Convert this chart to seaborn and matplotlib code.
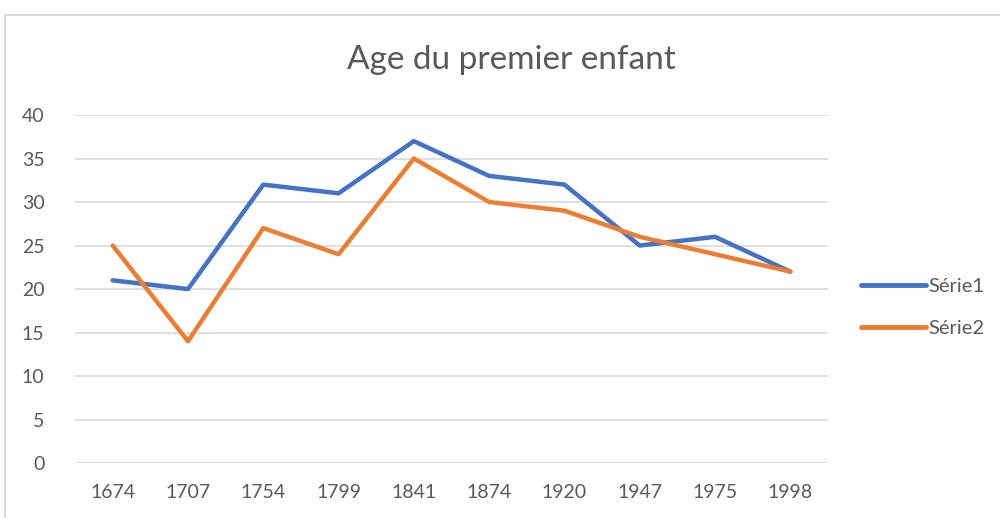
import pandas as pd
import seaborn as sns
import matplotlib.pyplot as plt
from matplotlib.patches import Rectangle

# données
annees = ['1674', '1707', '1754', '1799', '1841', '1874', '1920', '1947', '1975', '1998']
serie1 = [21, 20, 32, 31, 37, 33, 32, 25, 26, 22]
serie2 = [25, 14, 27, 24, 35, 30, 29, 26, 24, 22]

df = pd.DataFrame({
    'annee': annees * 2,
    'age': serie1 + serie2,
    'serie': ['Série1'] * len(annees) + ['Série2'] * len(annees),
})

sns.set_style('white')
plt.rcParams['font.family'] = ['Lato', 'DejaVu Sans']

fig = plt.figure(figsize=(10, 5.18), dpi=100)
ax = fig.add_axes([0.075, 0.106, 0.753, 0.672])

# cadre gris du graphique (coupé à droite et en bas)
fig.patches.append(Rectangle((0.005, -0.1), 1.2, 0.071 + 0.1 + 0.9, transform=fig.transFigure,
                             fill=False, edgecolor='#D9D9D9', linewidth=1.5))

sns.lineplot(data=df, x='annee', y='age', hue='serie', sort=False,
             palette=['#4472C4', '#ED7D31'], linewidth=3.2, ax=ax)

ax.set_xlim(-0.5, len(annees) - 0.5)
ax.set_ylim(0, 40)
ax.set_yticks(range(0, 41, 5))
ax.yaxis.grid(True, color='#D9D9D9', linewidth=1.2)
ax.set_axisbelow(True)
for s in ax.spines.values():
    s.set_visible(False)
ax.tick_params(axis='both', length=0, labelsize=14, colors='#595959')
ax.tick_params(axis='y', pad=22)
ax.tick_params(axis='x', pad=15)
ax.set_xlabel('')
ax.set_ylabel('')

fig.text(0.511, 0.884, 'Age du premier enfant', ha='center', va='center',
         fontsize=24, color='#595959')

leg = ax.legend(loc='center left', bbox_to_anchor=(1.02, 0.447), frameon=False,
                fontsize=14.5, labelcolor='#595959', handlelength=3.2,
                handletextpad=0.15, labelspacing=1.2)
for line in leg.get_lines():
    line.set_linewidth(3.5)
    line.set_solid_capstyle('round')

fig.savefig('out.png', dpi=100)
